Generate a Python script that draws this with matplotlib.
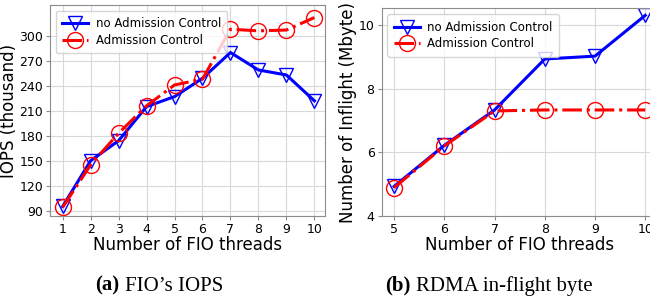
import matplotlib
matplotlib.use("Agg")
import matplotlib.pyplot as plt

threads_a = [1, 2, 3, 4, 5, 6, 7, 8, 9, 10]
iops_no_ac = [95, 150, 174, 215, 227, 249, 280, 259, 253, 222]
iops_ac = [94, 145, 183, 216, 241, 248, 308, 306, 307, 322]

threads_b = [5, 6, 7, 8, 9, 10]
inflight_no_ac = [4.93, 6.22, 7.33, 8.93, 9.02, 10.3]
inflight_ac = [4.89, 6.2, 7.3, 7.33, 7.33, 7.33]

fig = plt.figure(figsize=(6.5, 2.98), dpi=100)
ax1 = fig.add_axes([0.077, 0.275, 0.423, 0.708])
ax2 = fig.add_axes([0.587, 0.275, 0.425, 0.697])


def style(ax):
    ax.grid(True, color="#d8d8d8", linewidth=0.8)
    ax.set_axisbelow(True)
    for s in ax.spines.values():
        s.set_color("#8c8c8c")
        s.set_linewidth(0.8)
    ax.tick_params(labelsize=9, length=3, color="#8c8c8c", pad=2)


def draw(ax, x, a, b):
    ax.plot(x, a, color="blue", lw=2.2, marker="v", ms=10.5, mfc="none",
            mec="blue", mew=1.0, label="no Admission Control")
    ax.plot(x, b, color="red", lw=2.2, ls="-.", marker="o", ms=11.5, mfc="none",
            mec="red", mew=1.0, label="Admission Control")
    ax.legend(loc="upper left", fontsize=8.5, framealpha=0.8,
              handlelength=2.2, handletextpad=0.6, borderpad=0.55,
              labelspacing=0.3)


draw(ax1, threads_a, iops_no_ac, iops_ac)
style(ax1)
ax1.set_xticks(threads_a)
ax1.set_yticks([90, 120, 150, 180, 210, 240, 270, 300])
ax1.set_ylim(83.5, 337)
ax1.set_xlim(0.55, 10.38)
ax1.set_xlabel("Number of FIO threads", fontsize=12, labelpad=0)
ax1.set_ylabel("IOPS (thousand)", fontsize=12, labelpad=1)

draw(ax2, threads_b, inflight_no_ac, inflight_ac)
style(ax2)
ax2.set_xticks(threads_b)
ax2.set_yticks([4, 6, 8, 10])
ax2.set_ylim(4, 10.52)
ax2.set_xlim(4.75, 10.25)
ax2.set_xlabel("Number of FIO threads", fontsize=12, labelpad=0)
ax2.set_ylabel("Number of Inflight (Mbyte)", fontsize=12, labelpad=1)

cap = dict(fontsize=15, family="Liberation Serif", ha="left", va="baseline")
fig.text(0.146, 0.025, "(a)", fontweight="bold", **cap)
fig.text(0.193, 0.025, "FIO\u2019s IOPS", **cap)
fig.text(0.592, 0.025, "(b)", fontweight="bold", **cap)
fig.text(0.640, 0.025, "RDMA in-flight byte", **cap)

fig.savefig("out.png", dpi=100)
